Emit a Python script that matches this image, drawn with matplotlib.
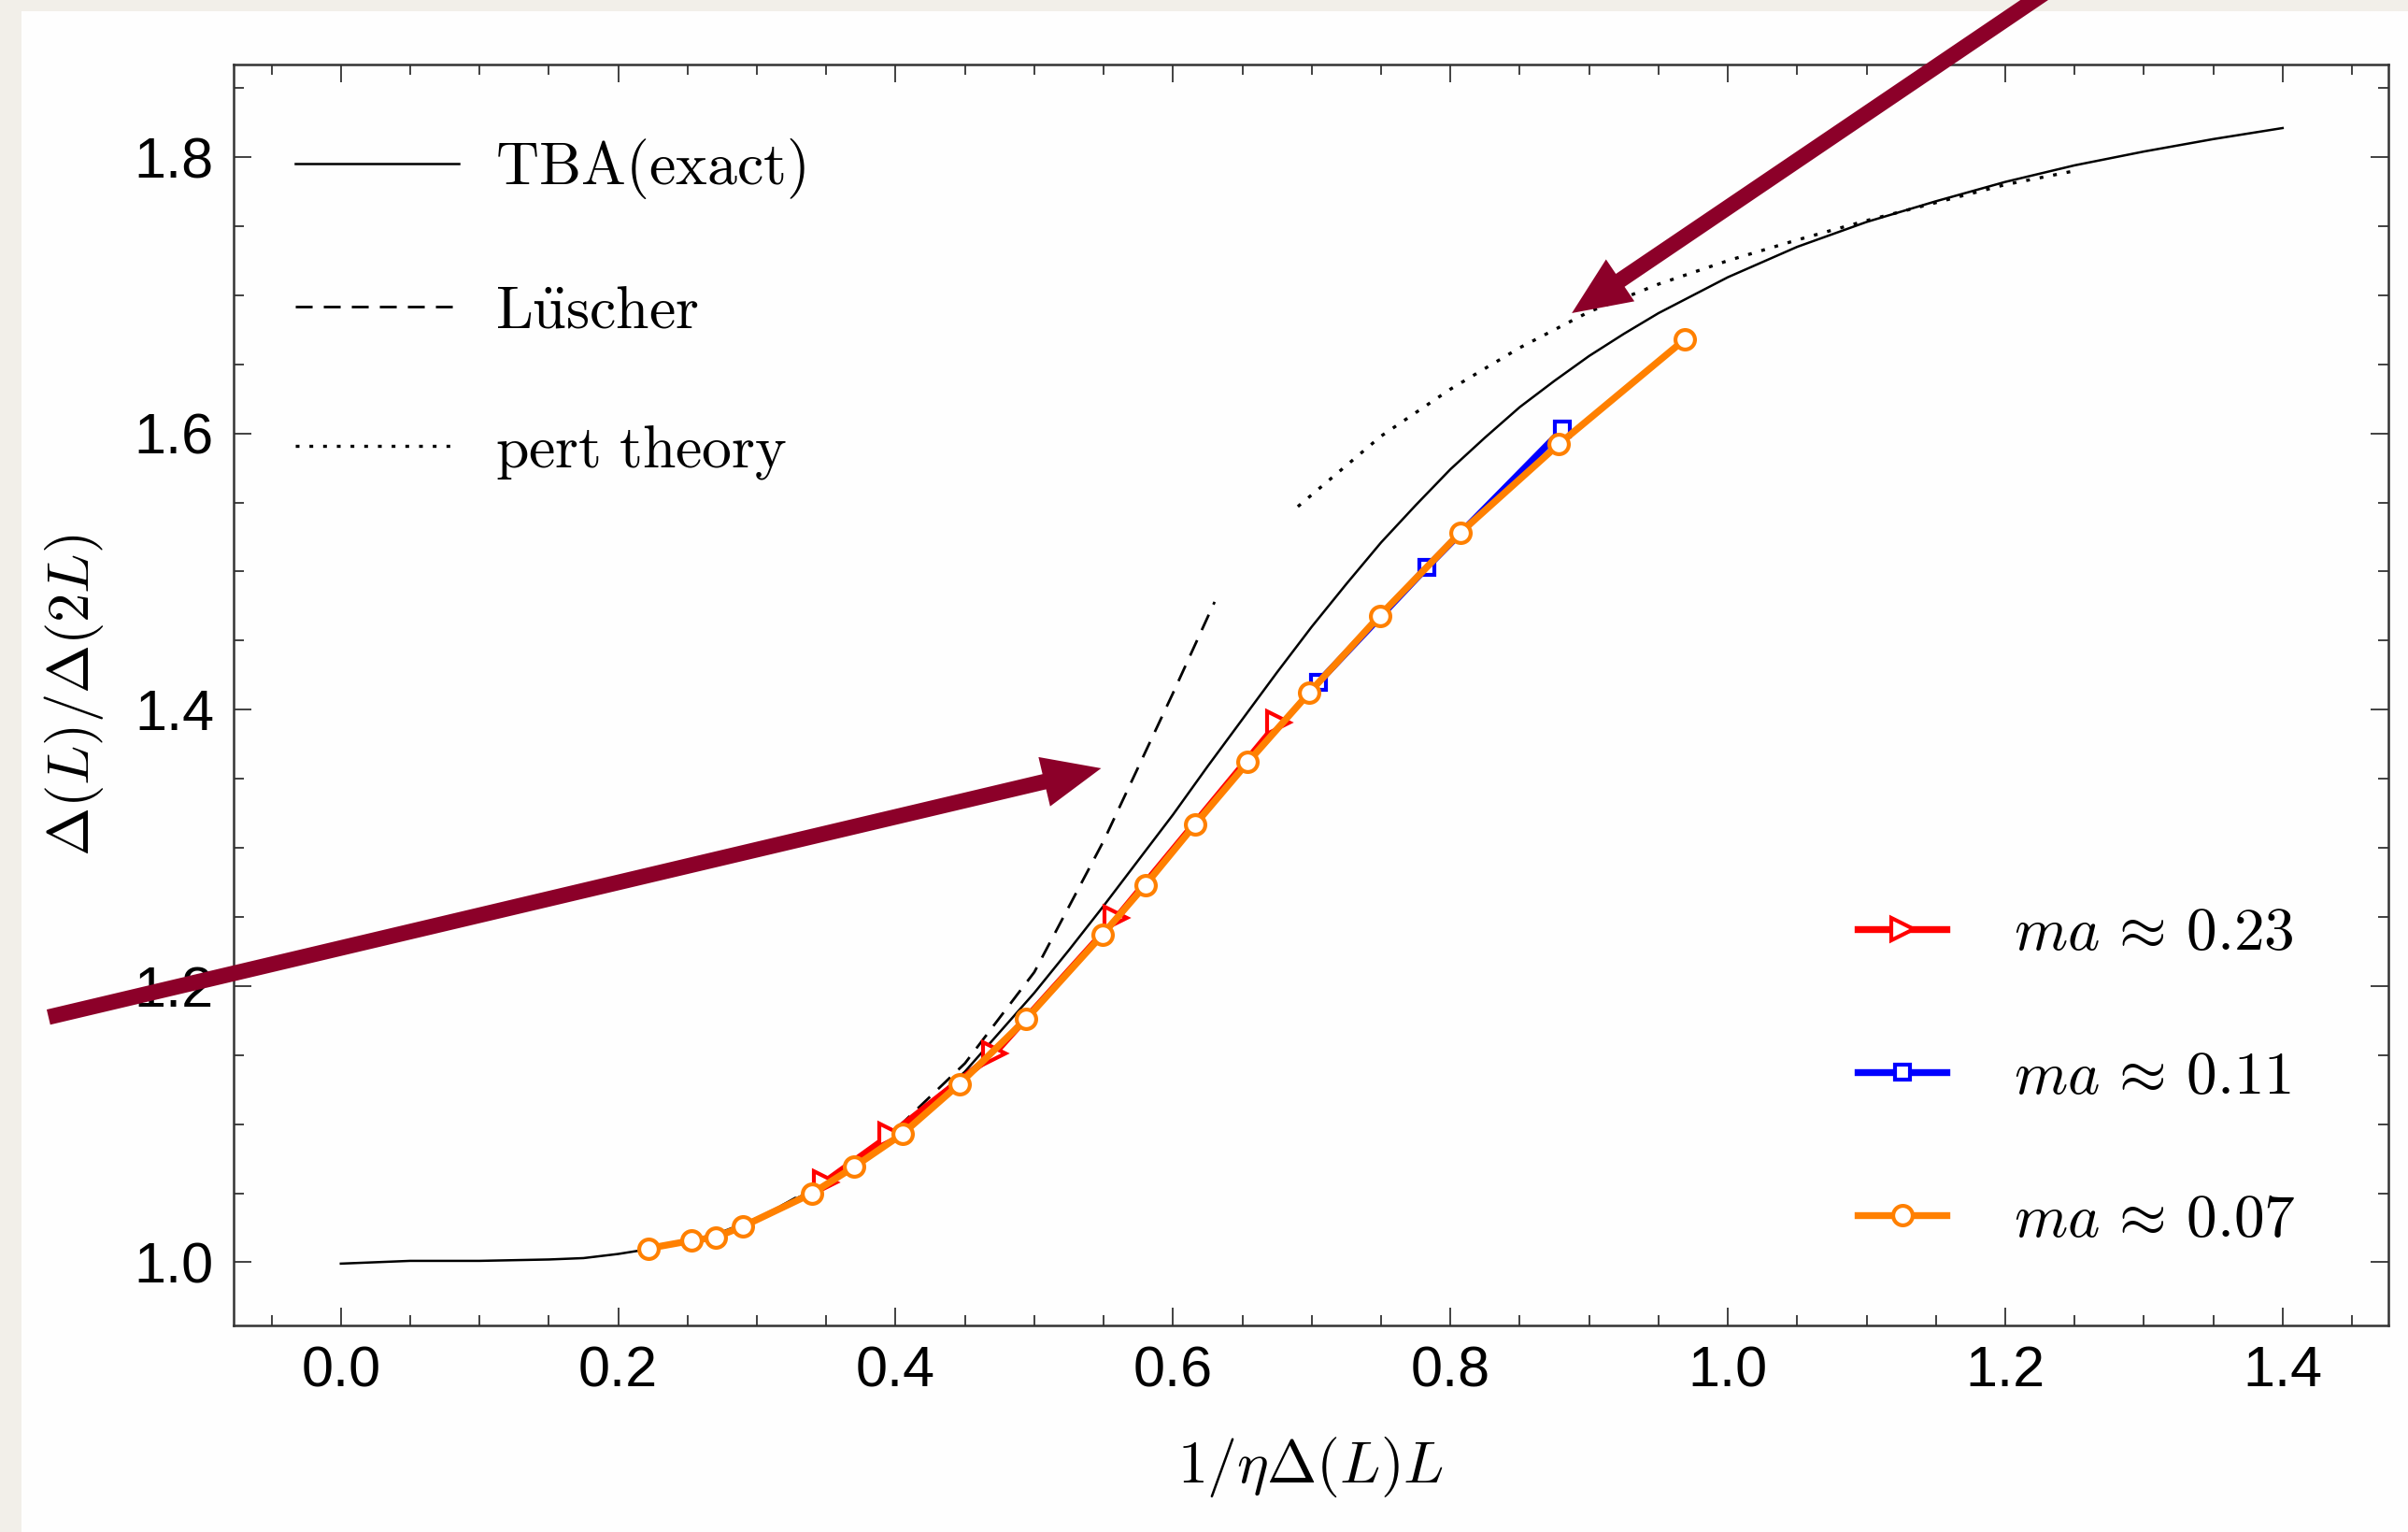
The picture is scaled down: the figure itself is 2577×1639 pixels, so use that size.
import matplotlib
matplotlib.use("Agg")
import matplotlib.pyplot as plt
from matplotlib.ticker import MultipleLocator
from matplotlib.patches import Rectangle

plt.rcParams['mathtext.fontset'] = 'cm'
plt.rcParams['font.family'] = ['Liberation Sans', 'DejaVu Sans']

# TBA (exact) curve
tba_x = [0.00, 0.05, 0.10, 0.15, 0.175, 0.20, 0.225, 0.25, 0.275, 0.30, 0.35, 0.40, 0.45,
         0.50, 0.525, 0.55, 0.575, 0.60, 0.625, 0.65, 0.675, 0.70, 0.725, 0.75, 0.775,
         0.80, 0.825, 0.85, 0.875, 0.90, 0.925, 0.95, 0.975, 1.00, 1.05, 1.10, 1.15,
         1.20, 1.25, 1.30, 1.35, 1.40]
tba_y = [0.999, 1.001, 1.001, 1.002, 1.003, 1.006, 1.010, 1.015, 1.022, 1.032, 1.057, 1.092, 1.138,
         1.195, 1.226, 1.258, 1.291, 1.324, 1.359, 1.393, 1.427, 1.460, 1.491, 1.521, 1.548,
         1.574, 1.597, 1.619, 1.638, 1.656, 1.672, 1.687, 1.700, 1.713, 1.735, 1.753, 1.768,
         1.782, 1.794, 1.804, 1.813, 1.821]

# Luscher approximation
lus_x = [0.30, 0.35, 0.40, 0.45, 0.50, 0.55, 0.60, 0.63]
lus_y = [1.031, 1.059, 1.096, 1.144, 1.210, 1.305, 1.412, 1.478]

# perturbation theory
pert_x = [0.69, 0.75, 0.80, 0.85, 0.90, 0.95, 1.00, 1.05, 1.10, 1.15, 1.20, 1.25]
pert_y = [1.547, 1.598, 1.632, 1.662, 1.688, 1.708, 1.725, 1.740, 1.754, 1.767, 1.780, 1.790]

# lattice data
red_x = [0.349, 0.396, 0.471, 0.559, 0.676]
red_y = [1.058, 1.092, 1.151, 1.249, 1.391]

blue_x = [0.705, 0.783, 0.881]
blue_y = [1.420, 1.503, 1.603]

orange_x = [0.2215, 0.2525, 0.270, 0.290, 0.340, 0.370, 0.405, 0.446, 0.494, 0.549,
            0.580, 0.616, 0.654, 0.698, 0.749, 0.807, 0.878, 0.969]
orange_y = [1.010, 1.0156, 1.018, 1.026, 1.050, 1.069, 1.093, 1.129, 1.176, 1.237,
            1.273, 1.317, 1.362, 1.412, 1.468, 1.528, 1.592, 1.668]

line_labels = [r'$\mathrm{TBA(exact)}$', r'$\mathrm{L\ddot{u}scher}$', r'$\mathrm{pert\ theory}$']
data_labels = [r'$ma\,\approx\,0.23$', r'$ma\,\approx\,0.11$', r'$ma\,\approx\,0.07$']

fig = plt.figure(figsize=(25.77, 16.39), dpi=100, facecolor='#f2efe9')
fig.patches.append(Rectangle((23 / 2577, 0), 1, 1 - 12 / 1639, transform=fig.transFigure,
                             facecolor='#fefefe', edgecolor='none', zorder=-10))
ax = fig.add_axes([0.0969, 0.1346, 0.8948, 0.8233])
ax.set_facecolor('none')

l1, = ax.plot(tba_x, tba_y, color='black', lw=1.8, zorder=2)
l2, = ax.plot(lus_x, lus_y, color='black', lw=2.0, dashes=(6.5, 4.3), zorder=2)
l3, = ax.plot(pert_x, pert_y, color='black', lw=2.4, dashes=(1.2, 3.2), zorder=2)

mkw = dict(mfc='white', mew=3, lw=5.3)
r, = ax.plot(red_x, red_y, color='#ff0000', marker='>', ms=17, zorder=3, **mkw)
b, = ax.plot(blue_x, blue_y, color='#0000ff', marker='s', ms=12, zorder=3, **mkw)
o, = ax.plot(orange_x, orange_y, color='#ff8000', marker='o', ms=15, zorder=4, **mkw)

ax.set_xlim(-0.0775, 1.476)
ax.set_ylim(0.954, 1.867)
ax.xaxis.set_major_locator(MultipleLocator(0.2))
ax.xaxis.set_minor_locator(MultipleLocator(0.05))
ax.yaxis.set_major_locator(MultipleLocator(0.2))
ax.yaxis.set_minor_locator(MultipleLocator(0.05))
ax.tick_params(which='both', direction='in', top=True, right=True, width=1.3, color='#333333')
ax.tick_params(which='major', length=14, labelsize=44, pad=15)
ax.tick_params(which='minor', length=8)
for s in ax.spines.values():
    s.set_linewidth(1.8)
    s.set_color('#333333')

ax.set_xlabel(r'$1/\eta\Delta(L)L$', fontsize=46, va='center')
ax.xaxis.set_label_coords(0.5, -0.112)
ax.set_ylabel(r'$\Delta(L)/\Delta(2L)$', fontsize=45, va='center')
ax.yaxis.set_label_coords(-0.074, 0.5)

leg1 = ax.legend([l1, l2, l3], line_labels, loc='upper left', bbox_to_anchor=(0.0286, 0.943),
                 frameon=False, fontsize=46, handlelength=2.75, handletextpad=0.6,
                 labelspacing=1.39, borderpad=0, borderaxespad=0)
ax.add_artist(leg1)
ax.legend([r, b, o], data_labels, loc='lower left', bbox_to_anchor=(0.754, 0.061),
          frameon=False, fontsize=47, handlelength=1.45, handletextpad=1.1,
          labelspacing=1.43, borderpad=0, borderaxespad=0, numpoints=1)

# highlight arrows
arrow_color = '#8c0029'
astyle = 'simple,head_length=0.75,head_width=0.65,tail_width=0.2'
ax.annotate('', xy=(0.550, 1.358), xytext=(-0.2126, 1.177), annotation_clip=False,
            arrowprops=dict(arrowstyle=astyle, mutation_scale=60, color=arrow_color, lw=0),
            zorder=6)
ax.annotate('', xy=(0.886, 1.686), xytext=(1.245, 1.93), annotation_clip=False,
            arrowprops=dict(arrowstyle=astyle, mutation_scale=60, color=arrow_color, lw=0),
            zorder=6)

fig.savefig('out.png', dpi=100, facecolor=fig.get_facecolor())
